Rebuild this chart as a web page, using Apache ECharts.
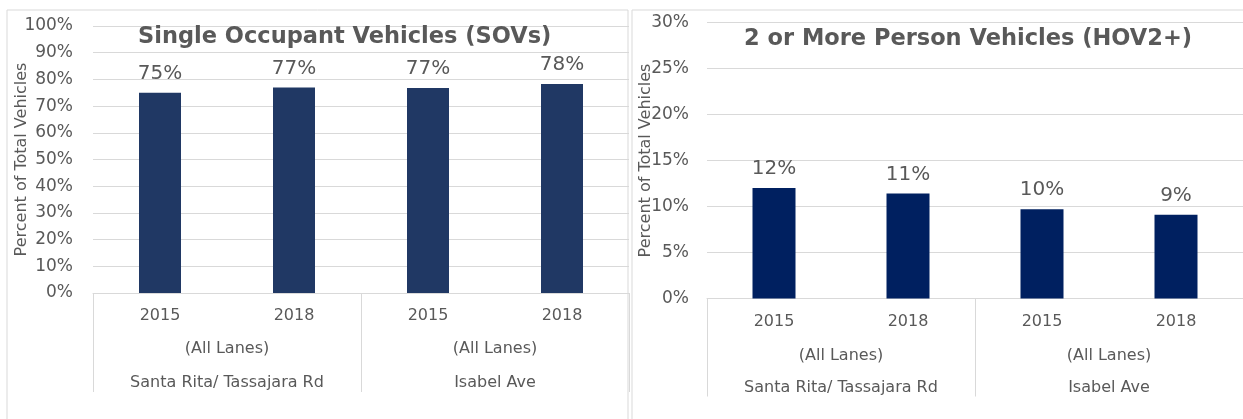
<!DOCTYPE html>
<html>
<head>
<meta charset="utf-8">
<script src="https://cdn.jsdelivr.net/npm/echarts@6/dist/echarts.min.js"></script>
<style>
  html, body { margin: 0; padding: 0; background: #fff; }
  #chart { width: 1243px; height: 419px; }
</style>
</head>
<body>
<div id="chart"></div>
<script>
// Category levels shared by both panels
const years = ['2015', '2018', '2015', '2018'];
const lanes = ['(All Lanes)', '(All Lanes)'];
const locations = ['Santa Rita/ Tassajara Rd', 'Isabel Ave'];

// Share of total vehicles (%)
const sovShare = [75.0, 77.0, 76.8, 78.3];
const hovShare = [12.0, 11.4, 9.7, 9.1];

const sovTitle = 'Single Occupant Vehicles (SOVs)';
const hovTitle = '2 or More Person Vehicles (HOV2+)';
const yName = 'Percent of Total Vehicles';

const FONT = 'DejaVu Sans';
const TEXT = '#595959';
const GRIDC = '#d9d9d9';

function panelAxes(gi, m) {
  return [
    { // years
      gridIndex: gi, type: 'category', data: years, position: 'bottom',
      axisLine: { show: true, lineStyle: { color: GRIDC } },
      axisTick: { show: false },
      axisLabel: { interval: 0, margin: m.year, color: TEXT, fontFamily: FONT, fontSize: 16 }
    },
    { // lane description, with group separators
      gridIndex: gi, type: 'category', data: lanes, position: 'bottom',
      axisLine: { show: false },
      axisTick: { show: true, interval: 0, length: m.tick, lineStyle: { color: GRIDC } },
      axisLabel: { interval: 0, margin: m.lane, color: TEXT, fontFamily: FONT, fontSize: 16 }
    },
    { // location
      gridIndex: gi, type: 'category', data: locations, position: 'bottom',
      axisLine: { show: false },
      axisTick: { show: false },
      axisLabel: { interval: 0, margin: m.loc, color: TEXT, fontFamily: FONT, fontSize: 16 }
    }
  ];
}

function yAxis(gi, max, step, margin) {
  return {
    gridIndex: gi, type: 'value', min: 0, max: max, interval: step,
    name: yName, nameLocation: 'middle', nameGap: margin.nameGap, nameMoveOverlap: false,
    nameTextStyle: { color: TEXT, fontFamily: FONT, fontSize: 16 },
    axisLine: { show: false }, axisTick: { show: false },
    axisLabel: { formatter: '{value}%', margin: margin.label, color: TEXT, fontFamily: FONT, fontSize: 17 },
    splitLine: { lineStyle: { color: GRIDC, width: 1 } }
  };
}

function barSeries(xi, yi, data, color, width) {
  return {
    type: 'bar', xAxisIndex: xi, yAxisIndex: yi, data: data, barWidth: width,
    itemStyle: { color: color },
    label: {
      show: true, position: 'top', distance: 9,
      formatter: p => Math.round(p.value) + '%',
      color: TEXT, fontFamily: FONT, fontSize: 20
    }
  };
}

const chart = echarts.init(document.getElementById('chart'), null, { renderer: 'canvas' });
chart.setOption({
  animation: false,
  backgroundColor: '#fff',
  title: [
    { text: sovTitle, left: 133, top: 21,
      textStyle: { color: TEXT, fontFamily: FONT, fontWeight: 'bold', fontSize: 22.5 } },
    { text: hovTitle, left: 739, top: 23,
      textStyle: { color: TEXT, fontFamily: FONT, fontWeight: 'bold', fontSize: 22.5 } }
  ],
  grid: [
    { left: 93, top: 26, width: 536, height: 267 },
    { left: 707, top: 22.5, width: 546, height: 276 }
  ],
  xAxis: [
    ...panelAxes(0, { year: 15, lane: 48, loc: 82, tick: 99 }),
    ...panelAxes(1, { year: 15, lane: 49, loc: 81, tick: 98 })
  ],
  yAxis: [
    yAxis(0, 100, 10, { label: 20, nameGap: 63 }),
    yAxis(1, 30, 5, { label: 18, nameGap: 53 })
  ],
  series: [
    barSeries(0, 0, sovShare, '#203864', 42),
    barSeries(3, 1, hovShare, '#002060', 43)
  ],
  graphic: [
    { type: 'rect', silent: true, z: -1, shape: { x: 7, y: 10, width: 621, height: 420 },
      style: { fill: 'none', stroke: GRIDC, lineWidth: 1 } },
    { type: 'rect', silent: true, z: -1, shape: { x: 632, y: 10, width: 620, height: 420 },
      style: { fill: 'none', stroke: GRIDC, lineWidth: 1 } }
  ]
});
</script>
</body>
</html>
